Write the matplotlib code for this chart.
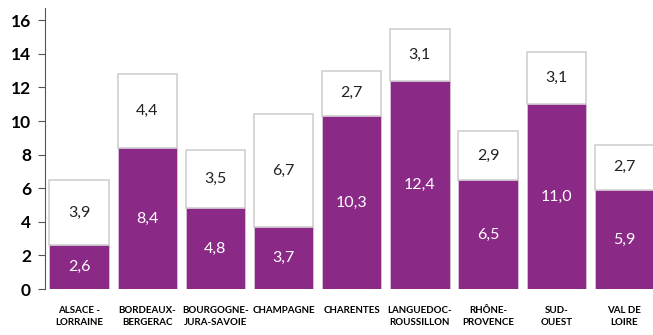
import numpy as np
import matplotlib.pyplot as plt

regions = ['ALSACE -\nLORRAINE', 'BORDEAUX-\nBERGERAC', 'BOURGOGNE-\nJURA-SAVOIE',
           'CHAMPAGNE', 'CHARENTES', 'LANGUEDOC-\nROUSSILLON', 'RHÔNE-\nPROVENCE',
           'SUD-\nOUEST', 'VAL DE\nLOIRE']
bas = [2.6, 8.4, 4.8, 3.7, 10.3, 12.4, 6.5, 11.0, 5.9]
haut = [3.9, 4.4, 3.5, 6.7, 2.7, 3.1, 2.9, 3.1, 2.7]

purple = '#8b2a86'
fig = plt.figure(figsize=(6.53, 3.35), dpi=100)
ax = fig.add_axes([45 / 653, 46 / 335, 608 / 653, 281 / 335])

x = np.arange(len(regions))
w = 0.87
ax.bar(x, haut, w, bottom=bas, color='white', edgecolor='#cccccc', linewidth=1.1, zorder=2)
ax.bar(x, bas, w, color=purple, edgecolor='#d5c3d3', linewidth=0.6, zorder=2)

for i in range(len(regions)):
    ax.text(x[i], bas[i] / 2, f'{bas[i]:.1f}'.replace('.', ','), ha='center', va='center',
            color='white', fontsize=11.5, family='Lato', zorder=3)
    ax.text(x[i], bas[i] + haut[i] / 2, f'{haut[i]:.1f}'.replace('.', ','), ha='center',
            va='center', color='#222222', fontsize=11.5, family='Lato', zorder=3)

ax.set_xlim(-0.5, 8.42)
ax.set_ylim(0, 16.73)
ax.set_yticks(range(0, 17, 2))
ax.set_xticks(x)
ax.set_xticklabels(regions, fontsize=7, fontweight='bold', family='Lato', linespacing=1.5)
ax.tick_params(axis='x', length=0, pad=12)
ax.tick_params(axis='y', length=5, width=0.8, color='#555555', labelsize=12.5, pad=5)
for lab in ax.get_yticklabels():
    lab.set_fontweight('bold')
    lab.set_family('Lato')
for s in ['top', 'right', 'bottom']:
    ax.spines[s].set_visible(False)
ax.spines['left'].set_color('#555555')
ax.spines['left'].set_linewidth(0.8)

fig.savefig('out.png', dpi=100)
